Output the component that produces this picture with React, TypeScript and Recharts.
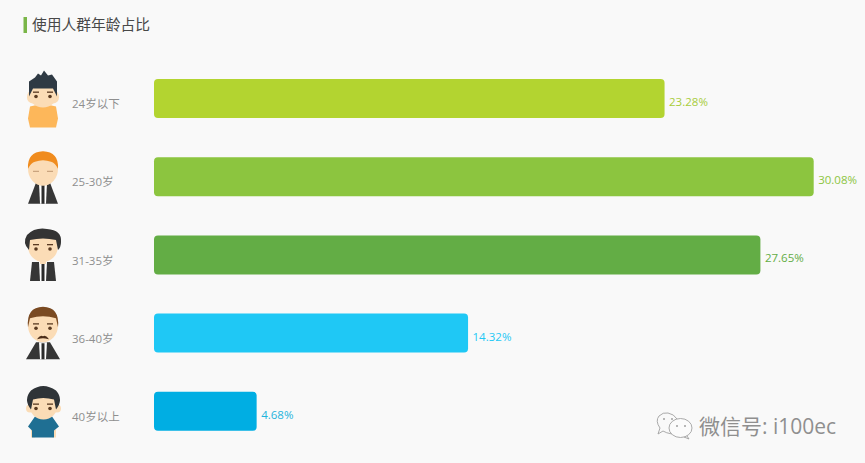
import React from "react";
import { Bar, BarChart, Cell, LabelList, XAxis, YAxis } from "recharts";

const ageGroups = ["24岁以下", "25-30岁", "31-35岁", "36-40岁", "40岁以上"];
const shares = [23.28, 30.08, 27.65, 14.32, 4.68];
const barColors = ["#b3d430", "#8cc53f", "#63ad45", "#1fc8f5", "#00aee3"];
const labelColors = ["#a8cc3a", "#8cc53f", "#63ad45", "#1fc8f5", "#1fb4dc"];

const rows = ageGroups.map((group, i) => ({ group, share: shares[i] }));

const FONT = '"Open Sans", "Noto Sans CJK SC", sans-serif';
const SKIN = "#fbdcb6";
const SUIT = "#363636";

function Eyes({ y = 0 }: { y?: number }) {
  return (
    <g fill="#5a3a22">
      <circle cx={-7} cy={y} r={1.8} />
      <circle cx={7} cy={y} r={1.8} />
      <rect x={-10} y={y - 5} width={6} height={1.3} />
      <rect x={4} y={y - 5} width={6} height={1.3} />
    </g>
  );
}

function SuitBody({ top, half, bottom, shoulder = 7 }: { top: number; half: number; bottom: number; shoulder?: number }) {
  return (
    <g>
      <path d={`M${-shoulder} ${top} L${shoulder} ${top} L${half} ${bottom} L${-half} ${bottom} Z`} fill={SUIT} />
      <path d={`M-4 ${top} L4 ${top} L3 ${bottom} L-3 ${bottom} Z`} fill="#fff" />
      <path d={`M-1.5 ${top + 1} L1.5 ${top + 1} L1.5 ${bottom} L-1.5 ${bottom} Z`} fill="#2b2b2b" />
    </g>
  );
}

// one little person per age group, drawn around the middle of its row
function Person({ index }: { index: number }) {
  if (index === 0) {
    return (
      <g>
        <path d="M-13 8 Q0 4 13 8 L15 20 L13 29 L-13 29 L-15 20 Z" fill="#fdb75a" />
        <rect x={-16} y={-8} width={32} height={13} rx={6} fill={SKIN} />
        <ellipse cx={0} cy={-4} rx={14} ry={13} fill={SKIN} />
        <path d="M-14 -2 L-14 -17 L-8 -21 L-5 -25 L-2 -23 L1 -28 L5 -23 L9 -24 L14 -17 L14 -2 L10 -10 L-10 -10 Z" fill="#2f3a44" />
        <Eyes y={-2} />
      </g>
    );
  }
  if (index === 1) {
    return (
      <g>
        <SuitBody top={6} half={15} bottom={27} />
        <ellipse cx={0} cy={-8} rx={15} ry={17} fill={SKIN} />
        <path d="M-15 -8 Q-16 -25 0 -25.5 Q16 -25 15 -8 Q12 -14 8 -15 Q0 -18 -8 -15 Q-12 -14 -15 -8 Z" fill="#f08c1e" />
        <g fill="#c9a27c">
          <rect x={-10} y={-6} width={6} height={1.2} />
          <rect x={4} y={-6} width={6} height={1.2} />
        </g>
      </g>
    );
  }
  if (index === 2) {
    return (
      <g>
        <SuitBody top={7} half={13} bottom={26} shoulder={11} />
        <rect x={-3} y={0} width={6} height={9} fill={SKIN} />
        <ellipse cx={0} cy={-9} rx={15} ry={16} fill={SKIN} />
        <path d="M-14 -5 Q-21 -12 -16 -20 Q-8 -28 4 -26 Q19 -25 18 -13 Q18 -8 15 -5 L13 -15 Q0 -18 -13 -15 Z" fill="#343434" />
        <Eyes y={-6} />
      </g>
    );
  }
  if (index === 3) {
    return (
      <g>
        <SuitBody top={9} half={17} bottom={26} />
        <ellipse cx={0} cy={-8} rx={15} ry={17} fill={SKIN} />
        <path d="M-15 -6 Q-17 -26 0 -26.5 Q17 -26 15 -6 L13 -15 Q0 -19 -13 -15 Z" fill="#7a4a22" />
        <Eyes y={-5} />
        <path d="M-6 6 Q-3 1 0 3 Q3 1 6 6 Q2 5 0 5 Q-2 5 -6 6 Z" fill="#4a2c18" />
      </g>
    );
  }
  return (
    <g>
      <rect x={-12} y={18} width={4} height={8} fill={SKIN} />
      <rect x={9} y={18} width={4} height={8} fill={SKIN} />
      <path d="M-8 5 L9 5 L16 15 L11 19 L11 26 L-11 26 L-11 19 L-15 15 Z" fill="#1f6f93" />
      <ellipse cx={-13} cy={-3} rx={4} ry={4} fill={SKIN} />
      <ellipse cx={14} cy={-3} rx={4} ry={4} fill={SKIN} />
      <ellipse cx={0.5} cy={-6} rx={14} ry={14} fill={SKIN} />
      <path d="M-12 -2 Q-20 -12 -12 -21 Q0 -30 13 -21 Q21 -12 13 -2 L11 -12 Q0 -15 -10 -12 Z" fill="#2f3438" />
      <Eyes y={-3} />
    </g>
  );
}

function AgeTick({ y, payload, index }: any) {
  return (
    <g>
      <g transform={`translate(43 ${y})`}>
        <Person index={index} />
      </g>
      <text x={72} y={y + 9.5} fontFamily={FONT} fontSize={11.5} fill="#8f8f8f">
        {payload.value}
      </text>
    </g>
  );
}

function ShareLabel({ x, y, width, height, value, index }: any) {
  return (
    <text x={x + width + 4.5} y={y + height / 2 + 7.5} fontFamily={FONT} fontSize={11.5} fill={labelColors[index]}>
      {value}%
    </text>
  );
}

export default function App() {
  return (
    <div style={{ position: "fixed", left: 0, top: 0, width: 865, height: 463, background: "#f9f9f9", overflow: "hidden" }}>
      <BarChart
        width={865}
        height={463}
        layout="vertical"
        data={rows}
        margin={{ top: 59.4, right: 9.2, bottom: 12.4, left: 0 }}
        barCategoryGap={19.5}
      >
        <XAxis type="number" domain={[0, 32]} hide />
        <YAxis type="category" dataKey="group" width={154} axisLine={false} tickLine={false} tick={<AgeTick />} interval={0} />
        <Bar dataKey="share" radius={4} isAnimationActive={false}>
          {rows.map((row, i) => (
            <Cell key={row.group} fill={barColors[i]} />
          ))}
          <LabelList dataKey="share" content={<ShareLabel />} />
        </Bar>
      </BarChart>
      <svg width={865} height={463} style={{ position: "absolute", left: 0, top: 0, pointerEvents: "none" }}>
        <rect x={23.5} y={17} width={3.5} height={16} fill="#7ab648" />
        <text x={32} y={30} fontFamily={FONT} fontSize={14.75} fill="#484848">
          使用人群年龄占比
        </text>
        <g fill="none" stroke="#a0a0a0" strokeWidth={0.9}>
          <path d="M672 434 Q666 433 663 431 L658 434 L660 428 Q655 421 659 416 Q663 412 668 413 Q674 414 677 419" />
          <ellipse cx={680.5} cy={428} rx={11.5} ry={9.5} fill="#fbfbfb" />
          <path d="M687 436 L689 439 L684 437" />
        </g>
        <g fill="#a0a0a0">
          <circle cx={664} cy={419} r={1} />
          <circle cx={672} cy={419} r={1} />
          <circle cx={677} cy={426} r={1} />
          <circle cx={685} cy={426} r={1} />
        </g>
        <text x={699} y={433.5} fontFamily={FONT} fontSize={21} fill="#8f8f8f">
          微信号: i100ec
        </text>
      </svg>
    </div>
  );
}
